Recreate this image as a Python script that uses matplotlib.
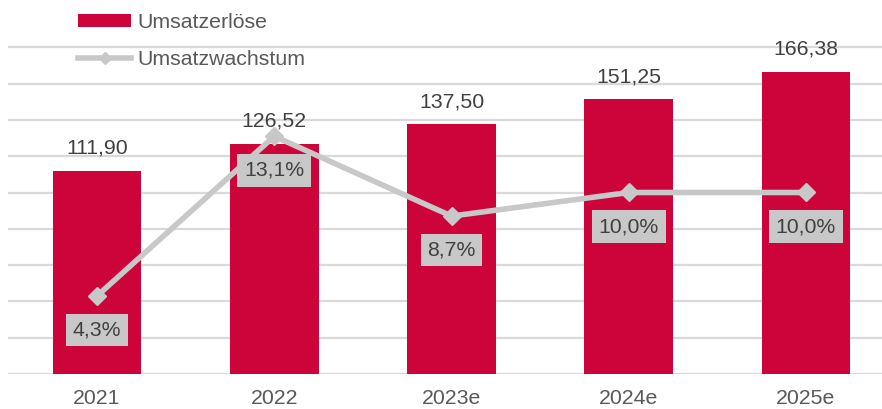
import numpy as np
import matplotlib.pyplot as plt

# ---- data ----
years = ['2021', '2022', '2023e', '2024e', '2025e']
umsatz = [111.90, 126.52, 137.50, 151.25, 166.38]     # Mio. EUR
wachstum = [4.3, 13.1, 8.7, 10.0, 10.0]              # in %

bar_color = '#CD0439'
line_color = '#C8C8C8'
text_dark = '#404040'
text_grey = '#595959'
fs = 15.3

plt.rcParams['font.family'] = ['Liberation Sans', 'DejaVu Sans']

W, H = 882, 409
fig = plt.figure(figsize=(W / 100, H / 100), dpi=100)

# axes placed in pixel coordinates (right edge runs off the picture like in the original)
left, right, bottom, top = 8.4, 894.6, 374, 11
ax = fig.add_axes([left / W, 1 - bottom / H, (right - left) / W, (bottom - top) / H])

x = np.arange(len(years))
bars = ax.bar(x, umsatz, width=0.5, color=bar_color, zorder=2, label='Umsatzerlöse')

# growth line on a hidden secondary axis (0-20 %)
ax2 = ax.twinx()
ax2.set_ylim(0, 20)
ax2.axis('off')
line, = ax2.plot(x, wachstum, color=line_color, linewidth=4, marker='D',
                 markersize=9.5, zorder=3, label='Umsatzwachstum')

ax.set_xlim(-0.5, len(years) - 0.5)
ax.set_ylim(0, 200)
ax.set_yticks(np.arange(0, 181, 20))
ax.yaxis.grid(True, color='#D9D9D9', linewidth=1.6, zorder=0)
ax.set_axisbelow(True)
for s in ax.spines.values():
    s.set_visible(False)
ax.tick_params(axis='y', left=False, right=False, labelleft=False, labelright=False)
ax.tick_params(axis='x', length=0, pad=11, labelsize=fs, labelcolor=text_grey)
ax.set_xticks(x)
ax.set_xticklabels(years)

for xi, v in zip(x, umsatz):
    ax.annotate(f'{v:.2f}'.replace('.', ','), (xi, v), xytext=(0, 16.5),
                textcoords='offset points', ha='center', va='center',
                fontsize=fs, color=text_dark)

for xi, v in zip(x, wachstum):
    ax2.annotate(f'{v:.1f}%'.replace('.', ','), (xi, v), xytext=(0, -24.5),
                 textcoords='offset points', ha='center', va='center',
                 fontsize=fs, color=text_dark, zorder=4,
                 bbox=dict(boxstyle='square,pad=0.32', fc=line_color, ec='none'))

fig.legend([bars, line], ['Umsatzerlöse', 'Umsatzwachstum'],
           loc='upper left', bbox_to_anchor=(78 / W, 1 - 13 / H),
           frameon=False, fontsize=fs, labelcolor=text_grey,
           handlelength=2.5, handleheight=0.5, handletextpad=0.3,
           labelspacing=0.85, borderpad=0, borderaxespad=0, markerscale=0.6)

fig.savefig('out.png', dpi=100)
